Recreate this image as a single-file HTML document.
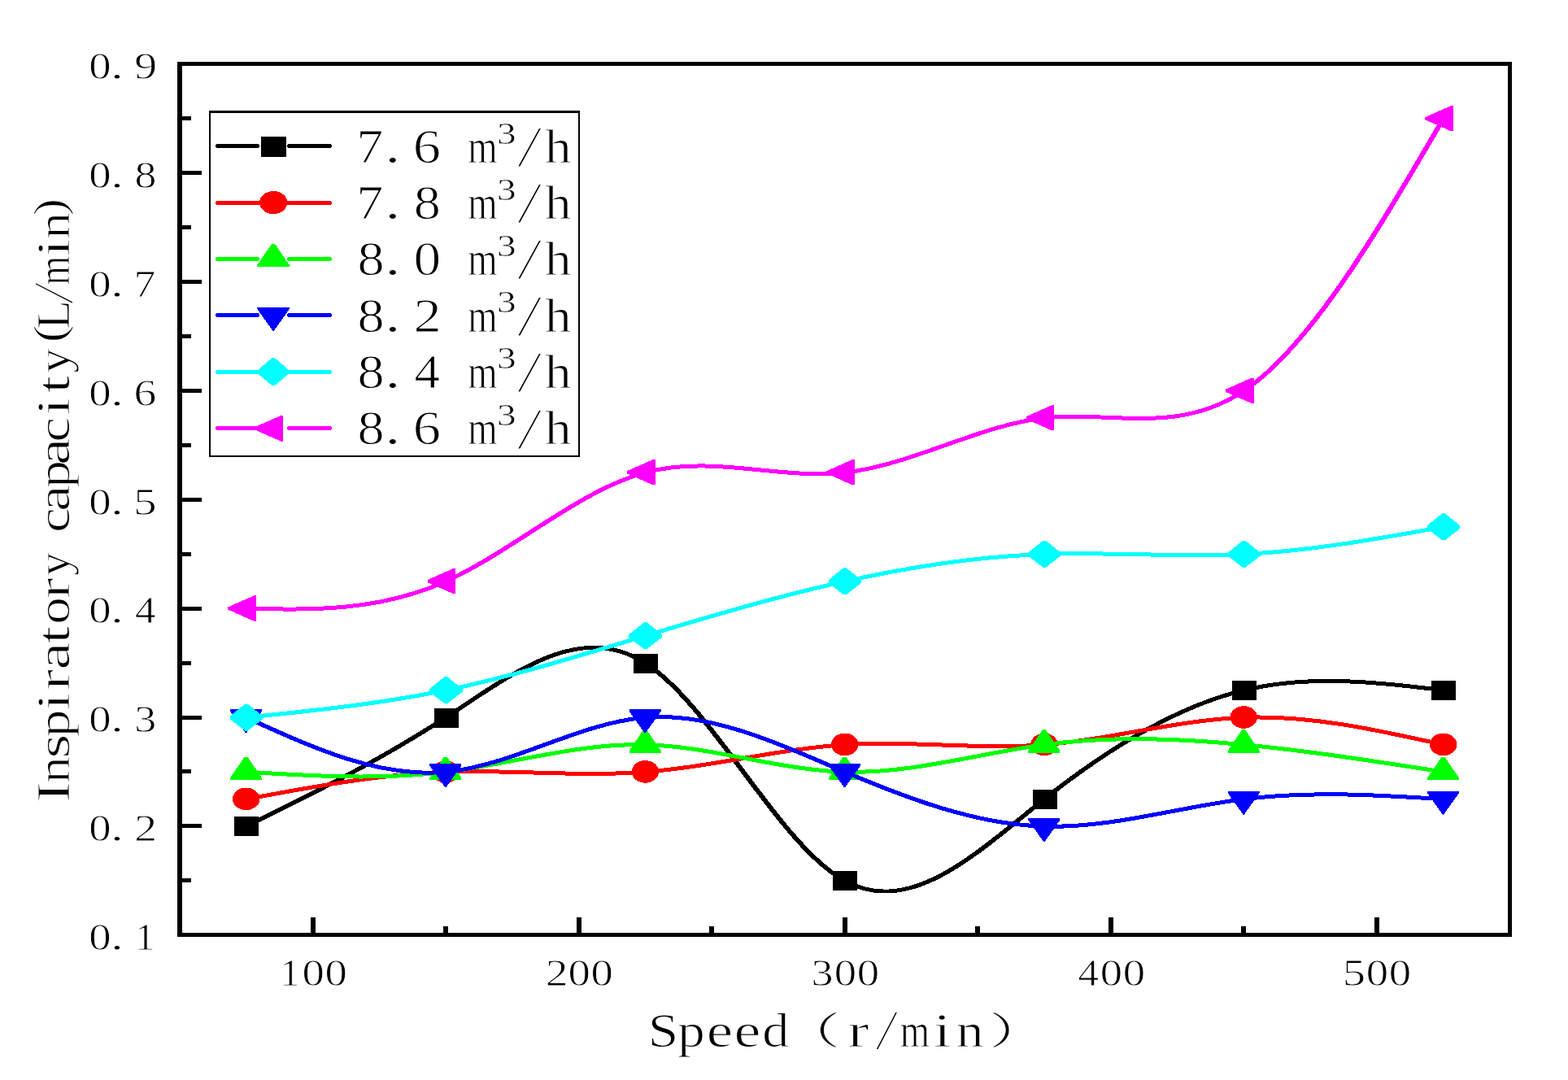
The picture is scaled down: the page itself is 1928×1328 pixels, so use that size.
<!DOCTYPE html>
<html lang="en"><head><meta charset="utf-8"><title>Inspiratory capacity vs speed</title>
<style>html,body{margin:0;padding:0;background:#fff}body{width:1928px;height:1328px;overflow:hidden}svg{display:block}text{font-family:"Liberation Serif","Noto Serif CJK SC",serif;fill:#000;white-space:pre;stroke:#fff;stroke-width:1px;stroke-linejoin:round}#ticklabels text{stroke-width:.8px}</style>
</head><body>
<svg width="1928" height="1328" viewBox="0 0 1928 1328" role="img" aria-label="Inspiratory capacity versus speed for six flow rates">
<rect width="1928" height="1328" fill="#fff"/>
<g id="plot" shape-rendering="crispEdges">
<g transform="translate(0,0.5) scale(1.24,1)"><path d="M244.17 1015.62C310.12 975.28 376.07 934.93 442.02 881.75C507.96 828.57 573.91 762.56 639.86 814.81C705.81 867.06 771.75 1037.57 837.7 1082.56C903.65 1127.56 969.6 1047.05 1035.54 982.16C1101.49 917.26 1167.44 867.99 1233.39 848.28C1299.33 828.57 1365.28 838.43 1431.23 848.28" fill="none" stroke="#000000" stroke-width="5" stroke-linecap="round" stroke-linejoin="round"/></g>
<rect x="288" y="1004" width="30" height="24" fill="#000000"/>
<rect x="534" y="871" width="30" height="24" fill="#000000"/>
<rect x="779" y="804" width="30" height="24" fill="#000000"/>
<rect x="1024" y="1071" width="30" height="24" fill="#000000"/>
<rect x="1270" y="971" width="30" height="24" fill="#000000"/>
<rect x="1515" y="837" width="30" height="24" fill="#000000"/>
<rect x="1760" y="837" width="30" height="24" fill="#000000"/>
<g transform="translate(0,0.5) scale(1.24,1)"><path d="M244.17 982.16C310.12 966.91 376.07 951.66 442.02 948.69C507.96 945.71 573.91 955.01 639.86 948.69C705.81 942.37 771.75 920.42 837.7 915.22C903.65 910.01 969.6 921.54 1035.54 915.22C1101.49 908.9 1167.44 884.73 1233.39 881.75C1299.33 878.77 1365.28 897 1431.23 915.22" fill="none" stroke="#ff0000" stroke-width="5" stroke-linecap="round" stroke-linejoin="round"/></g>
<ellipse cx="302.67" cy="982.36" rx="16.7" ry="13.8" fill="#ff0000"/>
<ellipse cx="548" cy="948.89" rx="16.7" ry="13.8" fill="#ff0000"/>
<ellipse cx="793.33" cy="948.89" rx="16.7" ry="13.8" fill="#ff0000"/>
<ellipse cx="1038.65" cy="915.42" rx="16.7" ry="13.8" fill="#ff0000"/>
<ellipse cx="1283.98" cy="915.42" rx="16.7" ry="13.8" fill="#ff0000"/>
<ellipse cx="1529.3" cy="881.95" rx="16.7" ry="13.8" fill="#ff0000"/>
<ellipse cx="1774.62" cy="915.42" rx="16.7" ry="13.8" fill="#ff0000"/>
<g transform="translate(0,0.5) scale(1.24,1)"><path d="M244.17 948.69C310.12 953.75 376.07 958.81 442.02 948.69C507.96 938.56 573.91 913.24 639.86 915.22C705.81 917.19 771.75 946.46 837.7 948.69C903.65 950.92 969.6 926.12 1035.54 915.22C1101.49 904.32 1167.44 907.32 1233.39 915.22C1299.33 923.11 1365.28 935.9 1431.23 948.69" fill="none" stroke="#00ff00" stroke-width="5" stroke-linecap="round" stroke-linejoin="round"/></g>
<polygon points="300.52,930.89 304.52,930.89 322.12,956.59 322.12,958.99 282.92,958.99 282.92,956.59" fill="#00ff00"/>
<polygon points="545.85,930.89 549.85,930.89 567.45,956.59 567.45,958.99 528.25,958.99 528.25,956.59" fill="#00ff00"/>
<polygon points="791.17,897.42 795.17,897.42 812.77,923.12 812.77,925.52 773.57,925.52 773.57,923.12" fill="#00ff00"/>
<polygon points="1036.5,930.89 1040.5,930.89 1058.1,956.59 1058.1,958.99 1018.9,958.99 1018.9,956.59" fill="#00ff00"/>
<polygon points="1281.83,897.42 1285.83,897.42 1303.42,923.12 1303.42,925.52 1264.23,925.52 1264.23,923.12" fill="#00ff00"/>
<polygon points="1527.15,897.42 1531.15,897.42 1548.75,923.12 1548.75,925.52 1509.55,925.52 1509.55,923.12" fill="#00ff00"/>
<polygon points="1772.47,930.89 1776.47,930.89 1794.07,956.59 1794.07,958.99 1754.88,958.99 1754.88,956.59" fill="#00ff00"/>
<g transform="translate(0,0.5) scale(1.24,1)"><path d="M244.17 881.75C310.12 919.04 376.07 956.33 442.02 948.69C507.96 941.05 573.91 888.49 639.86 881.75C705.81 875.01 771.75 914.1 837.7 948.69C903.65 983.27 969.6 1013.35 1035.54 1015.62C1101.49 1017.9 1167.44 992.37 1233.39 982.16C1299.33 971.94 1365.28 977.05 1431.23 982.16" fill="none" stroke="#0000ff" stroke-width="5" stroke-linecap="round" stroke-linejoin="round"/></g>
<polygon points="282.92,872.15 322.12,872.15 322.12,874.55 303.22,901.15 301.82,901.15 282.92,874.55" fill="#0000ff"/>
<polygon points="528.25,939.09 567.45,939.09 567.45,941.49 548.55,968.09 547.15,968.09 528.25,941.49" fill="#0000ff"/>
<polygon points="773.57,872.15 812.77,872.15 812.77,874.55 793.88,901.15 792.47,901.15 773.57,874.55" fill="#0000ff"/>
<polygon points="1018.9,939.09 1058.1,939.09 1058.1,941.49 1039.2,968.09 1037.8,968.09 1018.9,941.49" fill="#0000ff"/>
<polygon points="1264.23,1006.02 1303.42,1006.02 1303.42,1008.42 1284.53,1035.02 1283.12,1035.02 1264.23,1008.42" fill="#0000ff"/>
<polygon points="1509.55,972.56 1548.75,972.56 1548.75,974.96 1529.85,1001.56 1528.45,1001.56 1509.55,974.96" fill="#0000ff"/>
<polygon points="1754.88,972.56 1794.07,972.56 1794.07,974.96 1775.17,1001.56 1773.77,1001.56 1754.88,974.96" fill="#0000ff"/>
<g transform="translate(0,0.5) scale(1.24,1)"><path d="M244.17 881.75C310.12 873.44 376.07 865.13 442.02 848.28C507.96 831.43 573.91 806.04 639.86 781.34C705.81 756.64 771.75 732.63 837.7 714.41C903.65 696.18 969.6 683.76 1035.54 680.94C1101.49 678.12 1167.44 684.91 1233.39 680.94C1299.33 676.96 1365.28 662.22 1431.23 647.47" fill="none" stroke="#00ffff" stroke-width="5" stroke-linecap="round" stroke-linejoin="round"/></g>
<polygon points="282.77,880.45 301.37,865.55 304.57,865.55 323.17,880.45 323.17,884.25 304.57,898.65 301.37,898.65 282.77,884.25" fill="#00ffff"/>
<polygon points="528.1,846.98 546.7,832.08 549.9,832.08 568.5,846.98 568.5,850.78 549.9,865.18 546.7,865.18 528.1,850.78" fill="#00ffff"/>
<polygon points="773.42,780.04 792.02,765.14 795.23,765.14 813.83,780.04 813.83,783.84 795.23,798.24 792.02,798.24 773.42,783.84" fill="#00ffff"/>
<polygon points="1018.75,713.11 1037.35,698.21 1040.55,698.21 1059.15,713.11 1059.15,716.91 1040.55,731.31 1037.35,731.31 1018.75,716.91" fill="#00ffff"/>
<polygon points="1264.08,679.64 1282.68,664.74 1285.88,664.74 1304.48,679.64 1304.48,683.44 1285.88,697.84 1282.68,697.84 1264.08,683.44" fill="#00ffff"/>
<polygon points="1509.4,679.64 1528,664.74 1531.2,664.74 1549.8,679.64 1549.8,683.44 1531.2,697.84 1528,697.84 1509.4,683.44" fill="#00ffff"/>
<polygon points="1754.72,646.17 1773.33,631.27 1776.52,631.27 1795.12,646.17 1795.12,649.97 1776.52,664.37 1773.33,664.37 1754.72,649.97" fill="#00ffff"/>
<g transform="translate(0,0.5) scale(1.24,1)"><path d="M244.17 747.88C310.12 749.51 376.07 751.14 442.02 714.41C507.96 677.68 573.91 602.59 639.86 580.53C705.81 558.48 771.75 589.46 837.7 580.53C903.65 571.61 969.6 522.78 1035.54 513.59C1101.49 504.41 1167.44 534.88 1233.39 480.13C1299.33 425.37 1365.28 285.41 1431.23 145.44" fill="none" stroke="#ff00ff" stroke-width="5" stroke-linecap="round" stroke-linejoin="round"/></g>
<polygon points="280.37,746.48 312.37,732.38 314.97,732.38 314.97,763.78 312.37,763.78 280.37,749.68" fill="#ff00ff"/>
<polygon points="525.7,713.01 557.7,698.91 560.3,698.91 560.3,730.31 557.7,730.31 525.7,716.21" fill="#ff00ff"/>
<polygon points="771.02,579.13 803.02,565.03 805.62,565.03 805.62,596.43 803.02,596.43 771.02,582.33" fill="#ff00ff"/>
<polygon points="1016.35,579.13 1048.35,565.03 1050.95,565.03 1050.95,596.43 1048.35,596.43 1016.35,582.33" fill="#ff00ff"/>
<polygon points="1261.68,512.19 1293.68,498.09 1296.28,498.09 1296.28,529.49 1293.68,529.49 1261.68,515.39" fill="#ff00ff"/>
<polygon points="1507,478.73 1539,464.63 1541.6,464.63 1541.6,496.03 1539,496.03 1507,481.93" fill="#ff00ff"/>
<polygon points="1752.33,144.04 1784.33,129.94 1786.92,129.94 1786.92,161.34 1784.33,161.34 1752.33,147.24" fill="#ff00ff"/>
</g>
<g id="axes" fill="#000" shape-rendering="crispEdges">
<rect x="218" y="76" width="6" height="1076"/>
<rect x="1854" y="76" width="5" height="1076"/>
<rect x="218" y="76" width="1641" height="5"/>
<rect x="218" y="1147" width="1641" height="5"/>
<rect x="224" y="1013" width="24" height="5"/>
<rect x="224" y="880" width="24" height="5"/>
<rect x="224" y="746" width="24" height="5"/>
<rect x="224" y="612" width="24" height="5"/>
<rect x="224" y="478" width="24" height="5"/>
<rect x="224" y="344" width="24" height="5"/>
<rect x="224" y="210" width="24" height="5"/>
<rect x="224" y="1080" width="11" height="5"/>
<rect x="224" y="946" width="11" height="5"/>
<rect x="224" y="813" width="11" height="5"/>
<rect x="224" y="679" width="11" height="5"/>
<rect x="224" y="545" width="11" height="5"/>
<rect x="224" y="411" width="11" height="5"/>
<rect x="224" y="277" width="11" height="5"/>
<rect x="224" y="143" width="11" height="5"/>
<rect x="382" y="1128" width="6" height="19"/>
<rect x="709" y="1128" width="6" height="19"/>
<rect x="1036" y="1128" width="6" height="19"/>
<rect x="1363" y="1128" width="6" height="19"/>
<rect x="1690" y="1128" width="6" height="19"/>
<rect x="545" y="1139" width="6" height="8"/>
<rect x="872" y="1139" width="6" height="8"/>
<rect x="1199" y="1139" width="6" height="8"/>
<rect x="1526" y="1139" width="6" height="8"/>
</g>
<g id="ticklabels" font-size="47">
<text y="1168.1"><tspan x="109.32" textLength="27.37" lengthAdjust="spacingAndGlyphs">0</tspan><tspan x="135.92" textLength="15.86" lengthAdjust="spacingAndGlyphs">.</tspan><tspan x="166.16" textLength="24.14" lengthAdjust="spacingAndGlyphs">1</tspan></text>
<text y="1034.22"><tspan x="109.32" textLength="27.37" lengthAdjust="spacingAndGlyphs">0</tspan><tspan x="135.92" textLength="15.86" lengthAdjust="spacingAndGlyphs">.</tspan><tspan x="165.31" textLength="27.81" lengthAdjust="spacingAndGlyphs">2</tspan></text>
<text y="900.35"><tspan x="109.32" textLength="27.37" lengthAdjust="spacingAndGlyphs">0</tspan><tspan x="135.92" textLength="15.86" lengthAdjust="spacingAndGlyphs">.</tspan><tspan x="165.17" textLength="26.99" lengthAdjust="spacingAndGlyphs">3</tspan></text>
<text y="766.48"><tspan x="109.32" textLength="27.37" lengthAdjust="spacingAndGlyphs">0</tspan><tspan x="135.92" textLength="15.86" lengthAdjust="spacingAndGlyphs">.</tspan><tspan x="166" textLength="25.6" lengthAdjust="spacingAndGlyphs">4</tspan></text>
<text y="632.6"><tspan x="109.32" textLength="27.37" lengthAdjust="spacingAndGlyphs">0</tspan><tspan x="135.92" textLength="15.86" lengthAdjust="spacingAndGlyphs">.</tspan><tspan x="164.21" textLength="28.3" lengthAdjust="spacingAndGlyphs">5</tspan></text>
<text y="498.73"><tspan x="109.32" textLength="27.37" lengthAdjust="spacingAndGlyphs">0</tspan><tspan x="135.92" textLength="15.86" lengthAdjust="spacingAndGlyphs">.</tspan><tspan x="164.61" textLength="27.85" lengthAdjust="spacingAndGlyphs">6</tspan></text>
<text y="364.85"><tspan x="109.32" textLength="27.37" lengthAdjust="spacingAndGlyphs">0</tspan><tspan x="135.92" textLength="15.86" lengthAdjust="spacingAndGlyphs">.</tspan><tspan x="164.45" textLength="26.9" lengthAdjust="spacingAndGlyphs">7</tspan></text>
<text y="230.97"><tspan x="109.32" textLength="27.37" lengthAdjust="spacingAndGlyphs">0</tspan><tspan x="135.92" textLength="15.86" lengthAdjust="spacingAndGlyphs">.</tspan><tspan x="165.45" textLength="26.9" lengthAdjust="spacingAndGlyphs">8</tspan></text>
<text y="97.1"><tspan x="109.32" textLength="27.37" lengthAdjust="spacingAndGlyphs">0</tspan><tspan x="135.92" textLength="15.86" lengthAdjust="spacingAndGlyphs">.</tspan><tspan x="165.2" textLength="27.88" lengthAdjust="spacingAndGlyphs">9</tspan></text>
<text y="1212"><tspan x="344.41" textLength="24.14" lengthAdjust="spacingAndGlyphs">1</tspan><tspan x="371.47" textLength="27.37" lengthAdjust="spacingAndGlyphs">0</tspan><tspan x="399.47" textLength="27.37" lengthAdjust="spacingAndGlyphs">0</tspan></text>
<text y="1212"><tspan x="670.66" textLength="27.81" lengthAdjust="spacingAndGlyphs">2</tspan><tspan x="698.57" textLength="27.37" lengthAdjust="spacingAndGlyphs">0</tspan><tspan x="726.57" textLength="27.37" lengthAdjust="spacingAndGlyphs">0</tspan></text>
<text y="1212"><tspan x="997.62" textLength="26.99" lengthAdjust="spacingAndGlyphs">3</tspan><tspan x="1025.67" textLength="27.37" lengthAdjust="spacingAndGlyphs">0</tspan><tspan x="1053.67" textLength="27.37" lengthAdjust="spacingAndGlyphs">0</tspan></text>
<text y="1212"><tspan x="1325.55" textLength="25.6" lengthAdjust="spacingAndGlyphs">4</tspan><tspan x="1352.77" textLength="27.37" lengthAdjust="spacingAndGlyphs">0</tspan><tspan x="1380.77" textLength="27.37" lengthAdjust="spacingAndGlyphs">0</tspan></text>
<text y="1212"><tspan x="1650.86" textLength="28.3" lengthAdjust="spacingAndGlyphs">5</tspan><tspan x="1679.87" textLength="27.37" lengthAdjust="spacingAndGlyphs">0</tspan><tspan x="1707.87" textLength="27.37" lengthAdjust="spacingAndGlyphs">0</tspan></text>
</g>
<g id="legend" shape-rendering="crispEdges">
<g fill="#000" shape-rendering="crispEdges">
<rect x="257" y="136" width="456" height="3"/>
<rect x="257" y="560" width="456" height="2"/>
<rect x="257" y="136" width="2" height="426"/>
<rect x="711" y="136" width="2" height="426"/>
</g>
<path d="M267.5 179.5 H316.3 M355.6 179.5 H405.6" stroke="#000000" stroke-width="5" stroke-linecap="round" fill="none"/>
<rect x="321" y="168" width="31" height="25" fill="#000" shape-rendering="crispEdges"/>
<text y="199.9" font-size="58.5"><tspan x="438.23" textLength="33.09" lengthAdjust="spacingAndGlyphs">7</tspan><tspan x="473.03" textLength="19.74" lengthAdjust="spacingAndGlyphs">.</tspan><tspan x="507.7" textLength="34.29" lengthAdjust="spacingAndGlyphs">6</tspan> <tspan x="575.22" textLength="36.41" lengthAdjust="spacingAndGlyphs">m</tspan><tspan x="610.94" y="176.7" font-size="38.5" textLength="23.6" lengthAdjust="spacingAndGlyphs" stroke-width="0.5">3</tspan><tspan x="635" y="204.1" font-size="72" textLength="32.2" lengthAdjust="spacingAndGlyphs" stroke-width="2.2">/</tspan><tspan x="669.86" y="199.9" textLength="32.91" lengthAdjust="spacingAndGlyphs">h</tspan></text>
<path d="M267.5 249.5 H316.3 M355.6 249.5 H405.6" stroke="#ff0000" stroke-width="5" stroke-linecap="round" fill="none"/>
<path d="M316 249.5 H325" stroke="#ff0000" stroke-width="5" fill="none"/>
<path d="M348 249.5 H356" stroke="#ff0000" stroke-width="5" fill="none"/>
<ellipse cx="336.2" cy="249.1" rx="17.1" ry="14.1" fill="#ff0000"/>
<text y="268.8" font-size="58.5"><tspan x="438.23" textLength="33.09" lengthAdjust="spacingAndGlyphs">7</tspan><tspan x="473.03" textLength="19.74" lengthAdjust="spacingAndGlyphs">.</tspan><tspan x="508.75" textLength="33.1" lengthAdjust="spacingAndGlyphs">8</tspan> <tspan x="575.22" textLength="36.41" lengthAdjust="spacingAndGlyphs">m</tspan><tspan x="610.94" y="245.6" font-size="38.5" textLength="23.6" lengthAdjust="spacingAndGlyphs" stroke-width="0.5">3</tspan><tspan x="635" y="273" font-size="72" textLength="32.2" lengthAdjust="spacingAndGlyphs" stroke-width="2.2">/</tspan><tspan x="669.86" y="268.8" textLength="32.91" lengthAdjust="spacingAndGlyphs">h</tspan></text>
<path d="M267.5 318.5 H316.3 M355.6 318.5 H405.6" stroke="#00ff00" stroke-width="5" stroke-linecap="round" fill="none"/>
<polygon points="334.05,299.9 338.05,299.9 355.65,325.6 355.65,328 316.45,328 316.45,325.6" fill="#00ff00"/>
<text y="338.2" font-size="58.5"><tspan x="439.45" textLength="33.1" lengthAdjust="spacingAndGlyphs">8</tspan><tspan x="473.03" textLength="19.74" lengthAdjust="spacingAndGlyphs">.</tspan><tspan x="508.46" textLength="33.69" lengthAdjust="spacingAndGlyphs">0</tspan> <tspan x="575.22" textLength="36.41" lengthAdjust="spacingAndGlyphs">m</tspan><tspan x="610.94" y="315" font-size="38.5" textLength="23.6" lengthAdjust="spacingAndGlyphs" stroke-width="0.5">3</tspan><tspan x="635" y="342.4" font-size="72" textLength="32.2" lengthAdjust="spacingAndGlyphs" stroke-width="2.2">/</tspan><tspan x="669.86" y="338.2" textLength="32.91" lengthAdjust="spacingAndGlyphs">h</tspan></text>
<path d="M267.5 387.5 H316.3 M355.6 387.5 H405.6" stroke="#0000ff" stroke-width="5" stroke-linecap="round" fill="none"/>
<polygon points="316.45,377.9 355.65,377.9 355.65,380.3 336.75,406.9 335.35,406.9 316.45,380.3" fill="#0000ff"/>
<text y="407.5" font-size="58.5"><tspan x="439.45" textLength="33.1" lengthAdjust="spacingAndGlyphs">8</tspan><tspan x="473.03" textLength="19.74" lengthAdjust="spacingAndGlyphs">.</tspan><tspan x="508.57" textLength="34.23" lengthAdjust="spacingAndGlyphs">2</tspan> <tspan x="575.22" textLength="36.41" lengthAdjust="spacingAndGlyphs">m</tspan><tspan x="610.94" y="384.3" font-size="38.5" textLength="23.6" lengthAdjust="spacingAndGlyphs" stroke-width="0.5">3</tspan><tspan x="635" y="411.7" font-size="72" textLength="32.2" lengthAdjust="spacingAndGlyphs" stroke-width="2.2">/</tspan><tspan x="669.86" y="407.5" textLength="32.91" lengthAdjust="spacingAndGlyphs">h</tspan></text>
<path d="M267.5 457.5 H316.3 M355.6 457.5 H405.6" stroke="#00ffff" stroke-width="5" stroke-linecap="round" fill="none"/>
<path d="M316 457.5 H325" stroke="#00ffff" stroke-width="5" fill="none"/>
<path d="M348 457.5 H356" stroke="#00ffff" stroke-width="5" fill="none"/>
<polygon points="316.7,455.4 334.5,440 337.7,440 355.5,455.4 355.5,459.2 337.7,474.1 334.5,474.1 316.7,459.2" fill="#00ffff"/>
<text y="476.5" font-size="58.5"><tspan x="439.45" textLength="33.1" lengthAdjust="spacingAndGlyphs">8</tspan><tspan x="473.03" textLength="19.74" lengthAdjust="spacingAndGlyphs">.</tspan><tspan x="509.42" textLength="31.52" lengthAdjust="spacingAndGlyphs">4</tspan> <tspan x="575.22" textLength="36.41" lengthAdjust="spacingAndGlyphs">m</tspan><tspan x="610.94" y="453.3" font-size="38.5" textLength="23.6" lengthAdjust="spacingAndGlyphs" stroke-width="0.5">3</tspan><tspan x="635" y="480.7" font-size="72" textLength="32.2" lengthAdjust="spacingAndGlyphs" stroke-width="2.2">/</tspan><tspan x="669.86" y="476.5" textLength="32.91" lengthAdjust="spacingAndGlyphs">h</tspan></text>
<path d="M267.5 526.5 H316.3 M355.6 526.5 H405.6" stroke="#ff00ff" stroke-width="5" stroke-linecap="round" fill="none"/>
<path d="M316 526.5 H325" stroke="#ff00ff" stroke-width="5" fill="none"/>
<polygon points="313.1,525.2 345.1,511.1 347.7,511.1 347.7,542.5 345.1,542.5 313.1,528.4" fill="#ff00ff"/>
<text y="546.4" font-size="58.5"><tspan x="439.45" textLength="33.1" lengthAdjust="spacingAndGlyphs">8</tspan><tspan x="473.03" textLength="19.74" lengthAdjust="spacingAndGlyphs">.</tspan><tspan x="507.7" textLength="34.29" lengthAdjust="spacingAndGlyphs">6</tspan> <tspan x="575.22" textLength="36.41" lengthAdjust="spacingAndGlyphs">m</tspan><tspan x="610.94" y="523.2" font-size="38.5" textLength="23.6" lengthAdjust="spacingAndGlyphs" stroke-width="0.5">3</tspan><tspan x="635" y="550.6" font-size="72" textLength="32.2" lengthAdjust="spacingAndGlyphs" stroke-width="2.2">/</tspan><tspan x="669.86" y="546.4" textLength="32.91" lengthAdjust="spacingAndGlyphs">h</tspan></text>
</g>
<text id="xtitle" y="1286.6" font-size="58.5"><tspan x="796.69" textLength="37.49" lengthAdjust="spacingAndGlyphs">S</tspan><tspan x="833.11" textLength="33.83" lengthAdjust="spacingAndGlyphs">p</tspan><tspan x="868.75" textLength="32.38" lengthAdjust="spacingAndGlyphs">e</tspan><tspan x="902.5" textLength="32.98" lengthAdjust="spacingAndGlyphs">e</tspan><tspan x="937.3" textLength="33.21" lengthAdjust="spacingAndGlyphs">d</tspan><tspan x="963.58" y="1283.8" font-size="46.2" textLength="69.3" lengthAdjust="spacingAndGlyphs" stroke-width="0.3">（</tspan><tspan x="1042.16" y="1286.6" textLength="26.3" lengthAdjust="spacingAndGlyphs">r</tspan><tspan x="1075.6" y="1290.2" font-size="70" textLength="29.6" lengthAdjust="spacingAndGlyphs" stroke-width="2.2">/</tspan><tspan x="1106.87" y="1286.6" textLength="36.4" lengthAdjust="spacingAndGlyphs">m</tspan><tspan x="1147.85" textLength="21.94" lengthAdjust="spacingAndGlyphs">i</tspan><tspan x="1175.74" textLength="33.88" lengthAdjust="spacingAndGlyphs">n</tspan><tspan x="1216.77" y="1283.8" font-size="46.2" textLength="69.3" lengthAdjust="spacingAndGlyphs" stroke-width="0.3">）</tspan></text>
<text id="ytitle" transform="translate(85,0) rotate(-90)" y="0" font-size="57.5"><tspan x="-987.01" textLength="25.85" lengthAdjust="spacingAndGlyphs">I</tspan><tspan x="-963.01" textLength="32.8" lengthAdjust="spacingAndGlyphs">n</tspan><tspan x="-932.74" textLength="30.21" lengthAdjust="spacingAndGlyphs">s</tspan><tspan x="-906.5" textLength="34.06" lengthAdjust="spacingAndGlyphs">p</tspan><tspan x="-873.61" textLength="21.57" lengthAdjust="spacingAndGlyphs">i</tspan><tspan x="-848.81" textLength="25.85" lengthAdjust="spacingAndGlyphs">r</tspan><tspan x="-823.71" textLength="34.45" lengthAdjust="spacingAndGlyphs">a</tspan><tspan x="-791.58" textLength="21.57" lengthAdjust="spacingAndGlyphs">t</tspan><tspan x="-767.66" textLength="33.62" lengthAdjust="spacingAndGlyphs">o</tspan><tspan x="-736.16" textLength="25.85" lengthAdjust="spacingAndGlyphs">r</tspan><tspan x="-708" textLength="28.83" lengthAdjust="spacingAndGlyphs">y</tspan> <tspan x="-655.05" textLength="30.89" lengthAdjust="spacingAndGlyphs">c</tspan><tspan x="-629.09" textLength="32.7" lengthAdjust="spacingAndGlyphs">a</tspan><tspan x="-599.9" textLength="34.06" lengthAdjust="spacingAndGlyphs">p</tspan><tspan x="-571.94" textLength="33.37" lengthAdjust="spacingAndGlyphs">a</tspan><tspan x="-543.65" textLength="30.89" lengthAdjust="spacingAndGlyphs">c</tspan><tspan x="-510.81" textLength="21.57" lengthAdjust="spacingAndGlyphs">i</tspan><tspan x="-483.48" textLength="21.57" lengthAdjust="spacingAndGlyphs">t</tspan><tspan x="-458.63" textLength="30.07" lengthAdjust="spacingAndGlyphs">y</tspan><tspan x="-421.27" y="-6" font-size="54.6" textLength="21.78" lengthAdjust="spacingAndGlyphs">(</tspan><tspan x="-404.67" y="0" font-size="57.5" textLength="35.46" lengthAdjust="spacingAndGlyphs">L</tspan><tspan x="-375.04" y="4.2" font-size="70" textLength="29.17" lengthAdjust="spacingAndGlyphs" stroke-width="2.2">/</tspan><tspan x="-350.46" y="0" font-size="57.5" textLength="35.78" lengthAdjust="spacingAndGlyphs">m</tspan><tspan x="-315.61" textLength="21.57" lengthAdjust="spacingAndGlyphs">i</tspan><tspan x="-293.71" textLength="32.8" lengthAdjust="spacingAndGlyphs">n</tspan><tspan x="-265.17" y="-6" font-size="54.6" textLength="21.39" lengthAdjust="spacingAndGlyphs">)</tspan></text>
</svg>
</body></html>
